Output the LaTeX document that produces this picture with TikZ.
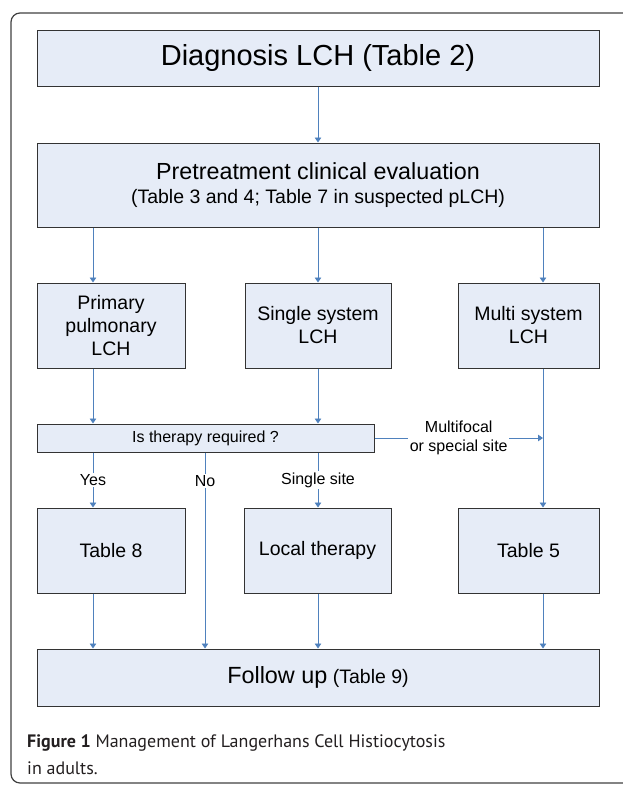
\documentclass[tikz,border=0pt]{standalone}
\usepackage{fontspec}
\setmainfont{Liberation Sans}
\newfontfamily\capfont{PT Sans}
\usetikzlibrary{arrows.meta}
\definecolor{boxfill}{RGB}{230,236,247}
\definecolor{flowblue}{RGB}{79,129,189}
\definecolor{captext}{RGB}{35,31,32}

\begin{document}
\begin{tikzpicture}[
      x=1pt, y=-1pt,
      every node/.style = {align=center, inner sep=0pt},
      box/.style = {draw=black!80, fill=boxfill, line width=1pt,
        font=\fontsize{19.5}{23}\selectfont},
      wide/.style = {box, minimum width=562pt},
      small/.style = {box, minimum height=85pt},
      arr/.style = {draw=flowblue, line width=0.9pt,
        -{Triangle[width=6.5pt,length=5pt]}},
      lbl/.style = {fill=white, inner sep=1.5pt,
        font=\fontsize{16}{19}\selectfont},
      figcaption/.style = {anchor=base west, text=captext,
        font=\capfont\fontsize{18}{22}\selectfont}
    ]
      \useasboundingbox (0,0) rectangle (622,785);
      \draw[black!75, line width=1.2pt, rounded corners=9pt] (11,13) rectangle (650,783);

      \coordinate (c1) at (93,0);
      \coordinate (c2) at (205,0);
      \coordinate (c3) at (318,0);
      \coordinate (c4) at (543,0);

      \node[wide, minimum height=56pt, font=\fontsize{29}{34}\selectfont] (diag) at (318,58) {Diagnosis LCH (Table 2)};
      \node[wide, minimum height=84pt] (eval) at (318,185)
        {{\fontsize{23.3}{28}\selectfont Pretreatment clinical evaluation}\\[1pt]
         (Table 3 and 4; Table 7 in suspected pLCH)};
      \node[small, minimum width=148pt] (pulm) at (111,325.5) {Primary\\pulmonary\\LCH};
      \node[small, minimum width=146pt] (single) at (318,325.5) {Single system\\LCH};
      \node[small, minimum width=141pt] (multi) at (528.5,325.5) {Multi system\\LCH};
      \node[box, minimum width=337pt, minimum height=28pt,
        font=\fontsize{16}{19}\selectfont] (req) at (205.5,438) {Is therapy required ?};
      \node[small, minimum width=148pt] (tab8) at (111,550.5) {Table 8};
      \node[small, minimum width=147pt] (local) at (317.5,550.5) {Local therapy};
      \node[small, minimum width=141pt] (tab5) at (528.5,550.5) {Table 5};
      \node[wide, minimum height=57pt] (follow) at (318,677.5)
        {{\fontsize{23.4}{28}\selectfont Follow up} (Table 9)};

      \draw[arr] (diag.south -| c3) -- (eval.north -| c3);
      \draw[arr] (eval.south -| c1) -- (pulm.north -| c1);
      \draw[arr] (eval.south -| c3) -- (single.north -| c3);
      \draw[arr] (eval.south -| c4) -- (multi.north -| c4);
      \draw[arr] (pulm.south -| c1) -- (req.north -| c1);
      \draw[arr] (single.south -| c3) -- (req.north -| c3);
      \draw[arr] (multi.south -| c4) -- (tab5.north -| c4);
      \draw[arr] (req.east) -- (req.east -| c4)
        node[lbl, midway] {Multifocal\\or special site};
      \draw[arr] (req.south -| c1) -- (tab8.north -| c1) node[lbl, midway] {Yes};
      \draw[arr] (req.south -| c2) -- (follow.north -| c2) node[lbl, pos=0.147] {No};
      \draw[arr] (req.south -| c3) -- (local.north -| c3) node[lbl, midway] {Single site};
      \draw[arr] (tab8.south -| c1) -- (follow.north -| c1);
      \draw[arr] (local.south -| c3) -- (follow.north -| c3);
      \draw[arr] (tab5.south -| c4) -- (follow.north -| c4);

      \node[figcaption] (cap1) at (27,747.7) {\textbf{Figure 1} Management of Langerhans Cell Histiocytosis};
      \node[figcaption] (cap2) at (27,774) {in adults.};
  \end{tikzpicture}
\end{document}
